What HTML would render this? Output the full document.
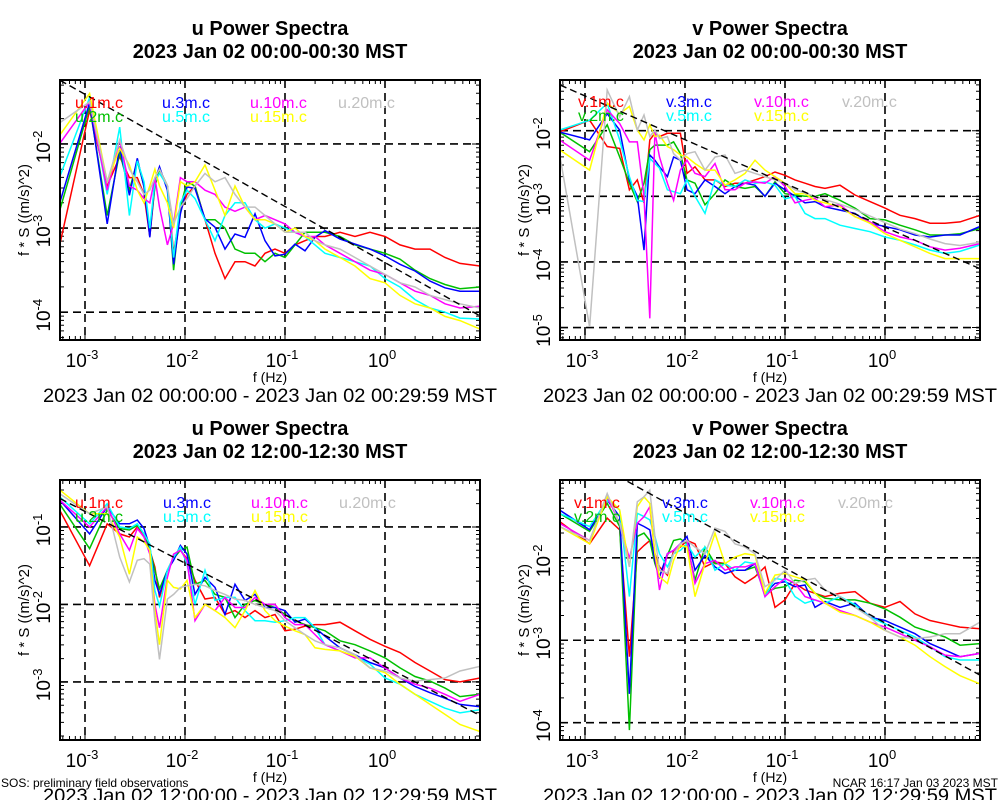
<!DOCTYPE html>
<html><head><meta charset="utf-8"><title>Power Spectra</title>
<style>
html,body{margin:0;padding:0;background:#fff;}
svg{display:block;font-family:"Liberation Sans",Arial,sans-serif;}
</style></head>
<body>
<svg id="chart" width="1000" height="800" viewBox="0 0 1000 800"></svg>
<script>
// log10 frequency (Hz) of spectral points
const freqLog = [-3.255,-2.954,-2.778,-2.653,-2.556,-2.477,-2.41,-2.352,-2.301,-2.255,-2.176,-2.114,-2.046,-1.98,-1.9,-1.8,-1.7,-1.6,-1.5,-1.4,-1.3,-1.2,-1.1,-1.0,-0.9,-0.8,-0.7,-0.6,-0.45,-0.3,-0.15,0,0.15,0.3,0.45,0.6,0.75,0.95];
const seriesNames = ["1m","2m","3m","5m","10m","15m","20m"];
const seriesColors = ["#ff0000","#00c000","#0000ff","#00ffff","#ff00ff","#ffff00","#c0c0c0"];
const xTickExps = [-3,-2,-1,0];

// Panel 1: u 00:00-00:30 (log10 f*S)
const u0_1m = [-3.21,-1.6,-2.5,-2.15,-2.4,-2.4,-2.6,-3.1,-2.5,-2.3,-2.5,-3.3,-2.8,-2.6,-2.5,-2.9,-3.3,-3.6,-3.4,-3.4,-3.45,-3.3,-3.25,-3.3,-3.2,-3.15,-3.1,-3.1,-3.05,-3.1,-3.05,-3.1,-3.2,-3.25,-3.25,-3.35,-3.42,-3.45];
const u0_2m = [-2.8,-1.55,-2.85,-2.1,-2.55,-2.2,-2.5,-3.05,-2.5,-2.3,-2.5,-3.5,-2.75,-2.45,-2.5,-2.9,-2.9,-3.0,-3.25,-3.3,-3.3,-3.4,-3.3,-3.35,-3.2,-3.05,-3.05,-3.05,-3.1,-3.2,-3.25,-3.3,-3.37,-3.5,-3.6,-3.67,-3.72,-3.7];
const u0_3m = [-2.71,-1.51,-2.95,-2.03,-2.61,-2.17,-2.51,-3.11,-2.43,-2.27,-2.55,-3.43,-2.83,-2.51,-2.53,-2.89,-2.99,-3.25,-3.07,-3.11,-2.83,-3.15,-3.33,-3.31,-3.19,-3.27,-3.11,-3.03,-3.13,-3.19,-3.25,-3.33,-3.43,-3.51,-3.63,-3.71,-3.75,-3.75];
const u0_5m = [-2.4,-1.45,-2.6,-1.8,-2.85,-2.2,-2.45,-3.0,-2.45,-2.35,-2.5,-3.35,-2.7,-2.55,-2.65,-2.9,-3.15,-2.85,-2.7,-2.7,-2.9,-3.0,-2.95,-3.0,-3.05,-3.1,-3.2,-3.3,-3.35,-3.4,-3.45,-3.6,-3.7,-3.85,-3.95,-4.0,-4.07,-4.08];
const u0_10m = [-2.0,-1.5,-2.55,-1.95,-2.5,-2.55,-2.65,-2.7,-2.4,-2.75,-3.2,-2.95,-2.4,-2.45,-2.45,-2.55,-2.6,-2.75,-2.8,-2.75,-2.9,-2.85,-2.9,-2.95,-3.05,-3.1,-3.1,-3.2,-3.3,-3.4,-3.5,-3.55,-3.65,-3.75,-3.8,-3.9,-3.95,-3.93];
const u0_15m = [-1.9,-1.4,-2.45,-2.05,-2.25,-2.55,-2.7,-2.5,-2.3,-2.5,-2.7,-3.0,-2.45,-2.5,-2.45,-2.25,-2.55,-2.85,-2.5,-2.75,-2.9,-2.9,-2.95,-3.05,-3.0,-3.1,-3.15,-3.25,-3.35,-3.45,-3.6,-3.65,-3.8,-3.9,-3.95,-4.05,-4.1,-4.2];
const u0_20m = [-1.75,-1.5,-2.45,-1.95,-2.3,-2.45,-2.6,-2.55,-2.4,-2.3,-2.5,-2.95,-2.75,-2.65,-2.5,-2.35,-2.45,-2.4,-2.6,-2.75,-2.75,-2.85,-2.95,-3.05,-3.05,-3.05,-3.15,-3.2,-3.25,-3.35,-3.45,-3.55,-3.65,-3.7,-3.8,-3.85,-3.9,-3.95];

// Panel 2: v 00:00-00:30
const v0_1m = [-2.02,-1.84,-2.24,-2.27,-2.9,-2.75,-3.1,-2.14,-2.04,-2.09,-2.04,-2.04,-2.04,-2.65,-2.55,-2.75,-2.75,-2.85,-2.8,-2.8,-2.75,-2.7,-2.63,-2.68,-2.75,-2.8,-2.85,-2.88,-2.83,-2.98,-3.08,-3.18,-3.29,-3.34,-3.41,-3.41,-3.39,-3.29];
const v0_2m = [-2.02,-2.32,-1.91,-2.4,-2.8,-3.08,-2.8,-2.29,-2.22,-2.22,-2.22,-2.17,-2.35,-2.75,-2.8,-3.13,-2.96,-2.75,-2.85,-2.88,-2.85,-3.0,-2.78,-2.96,-2.98,-3.0,-3.0,-2.96,-3.06,-3.18,-3.34,-3.36,-3.44,-3.51,-3.59,-3.59,-3.57,-3.49];
const v0_3m = [-2.02,-2.14,-1.74,-1.99,-2.75,-3.0,-3.82,-2.37,-2.45,-2.55,-2.7,-2.4,-2.45,-2.9,-2.96,-2.75,-2.85,-2.96,-2.85,-2.8,-2.83,-3.0,-2.8,-2.9,-3.0,-3.1,-3.08,-3.16,-3.21,-3.26,-3.41,-3.46,-3.51,-3.59,-3.62,-3.59,-3.59,-3.46];
const v0_5m = [-1.99,-1.84,-1.58,-2.14,-2.7,-3.06,-3.08,-2.42,-2.5,-2.57,-2.9,-2.93,-2.96,-2.75,-3.0,-3.26,-2.75,-2.83,-2.85,-2.75,-2.8,-2.78,-2.83,-3.04,-3.0,-3.26,-3.34,-3.34,-3.44,-3.49,-3.54,-3.62,-3.67,-3.74,-3.82,-3.87,-3.84,-3.74];
const v0_10m = [-2.14,-2.45,-1.68,-1.89,-2.17,-2.17,-3.0,-4.86,-2.02,-2.4,-2.8,-3.06,-2.6,-2.45,-2.65,-2.7,-2.5,-2.9,-2.9,-2.8,-2.78,-2.8,-2.7,-2.85,-3.1,-3.06,-3.03,-3.16,-3.13,-3.31,-3.39,-3.54,-3.62,-3.67,-3.77,-3.82,-3.79,-3.72];
const v0_15m = [-2.29,-2.6,-1.58,-1.74,-1.63,-1.99,-2.14,-1.91,-2.09,-2.07,-2.24,-2.29,-2.37,-2.4,-2.5,-2.6,-2.6,-2.83,-2.75,-2.65,-2.45,-2.6,-2.7,-2.8,-2.96,-2.96,-3.06,-3.1,-3.16,-3.31,-3.41,-3.57,-3.67,-3.77,-3.87,-3.95,-3.95,-3.95];
const v0_20m = [-2.35,-4.99,-1.38,-1.79,-1.48,-1.99,-1.76,-2.09,-1.99,-2.12,-2.09,-2.35,-2.45,-2.35,-2.32,-2.6,-2.4,-2.37,-2.65,-2.6,-2.65,-2.7,-2.75,-2.8,-2.9,-2.95,-3.0,-3.05,-3.12,-3.2,-3.3,-3.4,-3.5,-3.57,-3.65,-3.72,-3.75,-3.7];

// Panel 3: u 12:00-12:30
const u12_1m = [-0.78,-1.5,-0.96,-1.09,-1.13,-1.0,-1.13,-1.3,-1.52,-1.91,-1.56,-1.39,-1.3,-1.41,-1.69,-1.93,-1.91,-2.13,-2.08,-2.17,-2.08,-2.17,-2.13,-2.34,-2.32,-2.28,-2.26,-2.26,-2.23,-2.34,-2.45,-2.54,-2.62,-2.75,-2.86,-2.97,-3.0,-2.95];
const u12_2m = [-0.7,-1.28,-0.78,-1.02,-1.04,-0.98,-1.09,-1.3,-1.56,-1.8,-1.56,-1.41,-1.3,-1.26,-1.74,-1.69,-1.87,-1.91,-2.17,-2.0,-1.95,-2.0,-2.04,-2.13,-2.21,-2.26,-2.3,-2.34,-2.47,-2.52,-2.6,-2.69,-2.82,-2.93,-2.99,-3.08,-3.19,-3.16];
const u12_3m = [-0.65,-1.09,-0.74,-0.96,-0.96,-0.91,-1.02,-1.26,-1.69,-1.87,-1.56,-1.43,-1.24,-1.35,-1.87,-1.65,-1.78,-2.13,-1.74,-1.95,-1.87,-2.04,-2.04,-2.08,-2.23,-2.19,-2.3,-2.41,-2.56,-2.65,-2.75,-2.82,-2.95,-3.06,-3.14,-3.21,-3.29,-3.32];
const u12_5m = [-0.61,-0.96,-0.7,-1.0,-1.02,-0.96,-1.09,-1.22,-1.82,-2.02,-1.56,-1.39,-1.26,-1.48,-2.0,-1.56,-1.95,-1.91,-1.91,-2.08,-2.21,-2.21,-2.23,-2.21,-2.17,-2.17,-2.3,-2.52,-2.6,-2.67,-2.77,-2.95,-3.03,-3.16,-3.25,-3.34,-3.4,-3.36];
const u12_10m = [-0.65,-1.0,-0.74,-1.09,-1.3,-1.02,-1.13,-1.35,-2.0,-2.3,-1.65,-1.35,-1.3,-1.43,-2.21,-2.0,-2.08,-1.91,-2.04,-2.04,-1.91,-2.0,-2.0,-2.17,-2.26,-2.26,-2.39,-2.52,-2.6,-2.69,-2.69,-2.82,-2.95,-3.03,-3.08,-3.16,-3.25,-3.16];
const u12_15m = [-0.52,-0.83,-0.83,-1.13,-1.61,-1.13,-1.19,-1.3,-2.08,-2.52,-1.69,-1.78,-1.8,-1.69,-2.17,-2.0,-2.08,-2.17,-2.3,-2.08,-1.82,-2.08,-2.21,-2.28,-2.34,-2.39,-2.56,-2.58,-2.6,-2.67,-2.82,-2.88,-3.03,-3.16,-3.29,-3.42,-3.55,-3.64];
const u12_20m = [-0.57,-0.83,-0.74,-1.39,-1.71,-1.43,-1.41,-1.48,-2.21,-2.71,-1.93,-1.87,-1.78,-1.76,-1.74,-1.76,-1.82,-1.87,-1.93,-1.95,-2.0,-2.04,-2.08,-2.21,-2.3,-2.39,-2.47,-2.52,-2.56,-2.65,-2.82,-2.86,-2.95,-2.99,-2.97,-2.95,-2.86,-2.8];

// Panel 4: v 12:00-12:30
const v12_1m = [-1.56,-1.83,-1.52,-1.66,-3.2,-1.93,-1.85,-1.79,-1.95,-2.11,-2.21,-1.91,-1.87,-1.79,-1.83,-2.11,-2.05,-2.07,-2.23,-2.31,-2.23,-2.11,-2.6,-2.51,-2.31,-2.39,-2.43,-2.47,-2.43,-2.41,-2.55,-2.6,-2.53,-2.68,-2.76,-2.8,-2.84,-2.86];
const v12_2m = [-1.46,-1.68,-1.34,-1.62,-4.09,-1.74,-1.7,-1.79,-2.07,-2.23,-1.97,-1.79,-1.77,-1.83,-2.27,-1.87,-2.07,-2.07,-2.15,-2.15,-2.11,-2.43,-2.37,-2.35,-2.27,-2.29,-2.43,-2.49,-2.51,-2.51,-2.55,-2.62,-2.72,-2.84,-2.9,-2.96,-3.06,-3.04];
const v12_3m = [-1.42,-1.66,-1.3,-1.5,-3.65,-1.58,-1.62,-1.66,-2.03,-2.23,-1.95,-1.91,-1.83,-1.74,-2.15,-1.97,-2.11,-2.19,-2.15,-2.15,-2.07,-2.43,-2.31,-2.29,-2.35,-2.33,-2.6,-2.53,-2.6,-2.55,-2.72,-2.76,-2.84,-2.92,-3.04,-3.12,-3.2,-3.16];
const v12_5m = [-1.46,-1.62,-1.3,-1.42,-2.47,-1.46,-1.5,-1.54,-1.74,-1.95,-2.11,-1.95,-1.91,-1.83,-1.99,-1.87,-2.15,-2.07,-2.15,-2.05,-2.07,-2.47,-2.25,-2.27,-2.47,-2.55,-2.51,-2.55,-2.47,-2.57,-2.72,-2.8,-2.88,-2.96,-3.08,-3.2,-3.24,-3.24];
const v12_10m = [-1.58,-1.79,-1.26,-1.58,-2.01,-1.58,-1.5,-1.38,-1.95,-2.39,-1.95,-1.91,-1.83,-1.79,-2.31,-2.07,-2.03,-2.15,-2.11,-2.11,-2.07,-2.47,-2.35,-2.25,-2.31,-2.47,-2.51,-2.55,-2.64,-2.7,-2.78,-2.84,-2.92,-3.0,-3.08,-3.18,-3.2,-3.16];
const v12_15m = [-1.62,-1.83,-1.26,-1.42,-2.11,-1.38,-1.26,-1.34,-1.95,-2.23,-2.31,-2.03,-1.85,-1.87,-2.47,-2.07,-1.7,-2.07,-1.99,-1.95,-1.97,-2.43,-2.21,-2.19,-2.23,-2.27,-2.43,-2.55,-2.66,-2.7,-2.78,-2.88,-2.96,-3.06,-3.2,-3.32,-3.43,-3.53];
const v12_20m = [-1.62,-1.79,-1.22,-1.58,-2.11,-1.32,-1.26,-1.18,-1.74,-2.15,-2.19,-1.95,-1.83,-1.79,-1.87,-1.95,-1.64,-1.68,-1.83,-1.87,-1.95,-2.35,-2.27,-2.15,-2.31,-2.27,-2.25,-2.39,-2.47,-2.6,-2.72,-2.88,-2.96,-2.98,-2.96,-2.92,-2.92,-2.78];

const NS = "http://www.w3.org/2000/svg";
const svg = document.getElementById("chart");
function mk(tag, attrs, parent){
  const e = document.createElementNS(NS, tag);
  for (const k in attrs) e.setAttribute(k, attrs[k]);
  (parent||svg).appendChild(e);
  return e;
}

const panels = [
  {id:"u-morning", comp:"u", x0:60, y0:80, top:-1.24, bot:-4.33, yt:[-2,-3,-4], c:-3.41,
   title:"u Power Spectra", sub:"2023 Jan 02 00:00-00:30 MST", range:"2023 Jan 02 00:00:00 - 2023 Jan 02 00:29:59 MST",
   data:[u0_1m,u0_2m,u0_3m,u0_5m,u0_10m,u0_15m,u0_20m], ly:[108,122], lx:[75,162,250,338]},
  {id:"v-morning", comp:"v", x0:560, y0:80, top:-1.227, bot:-5.19, yt:[-2,-3,-4,-5], c:-3.47,
   title:"v Power Spectra", sub:"2023 Jan 02 00:00-00:30 MST", range:"2023 Jan 02 00:00:00 - 2023 Jan 02 00:29:59 MST",
   data:[v0_1m,v0_2m,v0_3m,v0_5m,v0_10m,v0_15m,v0_20m], ly:[107,121], lx:[578,666,754,842]},
  {id:"u-noon", comp:"u", x0:60, y0:480, top:-0.394, bot:-3.75, yt:[-1,-2,-3], c:-2.80,
   title:"u Power Spectra", sub:"2023 Jan 02 12:00-12:30 MST", range:"2023 Jan 02 12:00:00 - 2023 Jan 02 12:29:59 MST",
   data:[u12_1m,u12_2m,u12_3m,u12_5m,u12_10m,u12_15m,u12_20m], ly:[508,522], lx:[75,163,251,339]},
  {id:"v-noon", comp:"v", x0:560, y0:480, top:-1.056, bot:-4.21, yt:[-2,-3,-4], c:-2.79,
   title:"v Power Spectra", sub:"2023 Jan 02 12:00-12:30 MST", range:"2023 Jan 02 12:00:00 - 2023 Jan 02 12:29:59 MST",
   data:[v12_1m,v12_2m,v12_3m,v12_5m,v12_10m,v12_15m,v12_20m], ly:[508,522], lx:[574,662,750,838]}
];

const W = 420, H = 260, XL = -3.25, XR = 0.95;

panels.forEach(function(p, pi){
  const g = mk("g", {});
  
  
  const xs = function(v){ return p.x0 + (v - XL) / (XR - XL) * W; };
  const ys = function(v){ return p.y0 + (p.top - v) / (p.top - p.bot) * H; };
  const cx = p.x0 + W/2;

  const t1 = mk("text", {x:cx, y:p.y0-45, "text-anchor":"middle", "font-size":"20", "font-weight":"bold"}, g);
  t1.textContent = p.title;
  
  
  const t2 = mk("text", {x:cx, y:p.y0-22, "text-anchor":"middle", "font-size":"20", "font-weight":"bold"}, g);
  t2.textContent = p.sub;
  
  

  const cp = mk("clipPath", {id:"clip"+pi}, g);
  mk("rect", {x:p.x0, y:p.y0, width:W, height:H}, cp);

  xTickExps.forEach(function(e){
    const gl = mk("line", {x1:xs(e), x2:xs(e), y1:p.y0, y2:p.y0+H, stroke:"#000", "stroke-width":"1.6", "stroke-dasharray":"8,5"}, g);
    
    
    const tl = mk("text", {x:xs(e)-3, y:p.y0+H+27, "text-anchor":"middle", "font-size":"19"}, g);
    tl.innerHTML = '10<tspan dy="-8" font-size="13">' + e + '</tspan>';
    
    
  });
  p.yt.forEach(function(e){
    const gl = mk("line", {x1:p.x0, x2:p.x0+W, y1:ys(e), y2:ys(e), stroke:"#000", "stroke-width":"1.6", "stroke-dasharray":"8,5"}, g);
    
    
    const tl = mk("text", {x:0, y:0, "text-anchor":"middle", "font-size":"19", transform:"translate(" + (p.x0-10) + "," + (ys(e)+3) + ") rotate(-90)"}, g);
    tl.innerHTML = '10<tspan dy="-8" font-size="13">' + e + '</tspan>';
    
    
  });
  let tk = "";
  for (let d = -4; d <= 1; d++) for (let m = 1; m <= 9; m++){
    const v = d + Math.log10(m);
    if (v <= XL || v >= XR) continue;
    const L = m === 1 ? 8 : 4, X = xs(v);
    tk += "M" + X + " " + p.y0 + "v" + L + "M" + X + " " + (p.y0+H) + "v-" + L;
  }
  for (let d = -6; d <= 0; d++) for (let m = 1; m <= 9; m++){
    const v = d + Math.log10(m);
    if (v >= p.top || v <= p.bot) continue;
    const L = m === 1 ? 8 : 4, Y = ys(v);
    tk += "M" + p.x0 + " " + Y + "h" + L + "M" + (p.x0+W) + " " + Y + "h-" + L;
  }
  const ticks = mk("path", {d:tk, stroke:"#000", "stroke-width":"1", fill:"none"}, g);
  
  

  p.data.forEach(function(arr, si){
    let d = "";
    arr.forEach(function(v, i){ d += (i ? "L" : "M") + xs(freqLog[i]).toFixed(1) + " " + ys(v).toFixed(1); });
    const ln = mk("path", {d:d, stroke:seriesColors[si], "stroke-width":"1.5", fill:"none", "clip-path":"url(#clip"+pi+")"}, g);
    
    
  });

  const rl = mk("line", {x1:xs(XL), y1:ys(-2/3*XL + p.c), x2:xs(XR), y2:ys(-2/3*XR + p.c), stroke:"#000", "stroke-width":"1.4", "stroke-dasharray":"7,4", "clip-path":"url(#clip"+pi+")"}, g);
  
  

  seriesNames.forEach(function(n, si){
    const col = [0,0,1,1,2,2,3][si], row = [0,1,0,1,0,1,0][si];
    const lt = mk("text", {x:p.lx[col], y:p.ly[row], "font-size":"16", fill:seriesColors[si]}, g);
    lt.textContent = p.comp + "." + n + ".c";
    
    
  });

  const box = mk("rect", {x:p.x0, y:p.y0, width:W, height:H, fill:"none", stroke:"#000", "stroke-width":"2"}, g);
  
  

  const xt = mk("text", {x:cx, y:p.y0+H+42, "text-anchor":"middle", "font-size":"14"}, g);
  xt.textContent = "f (Hz)";
  
  
  const yt = mk("text", {x:0, y:0, "text-anchor":"middle", "font-size":"15", transform:"translate(" + (p.x0-31) + "," + (p.y0+H/2) + ") rotate(-90)"}, g);
  yt.textContent = "f * S ((m/s)^2)";
  
  
  const rt = mk("text", {x:cx, y:p.y0+H+62, "text-anchor":"middle", "font-size":"19", textLength:"454", lengthAdjust:"spacingAndGlyphs"}, g);
  rt.textContent = p.range;
  
  
});

const f1 = mk("text", {x:1, y:787, "font-size":"12"});
f1.textContent = "SOS: preliminary field observations";


const f2 = mk("text", {x:998, y:787, "font-size":"12", "text-anchor":"end"});
f2.textContent = "NCAR 16:17 Jan 03 2023 MST";


</script>
</body></html>
